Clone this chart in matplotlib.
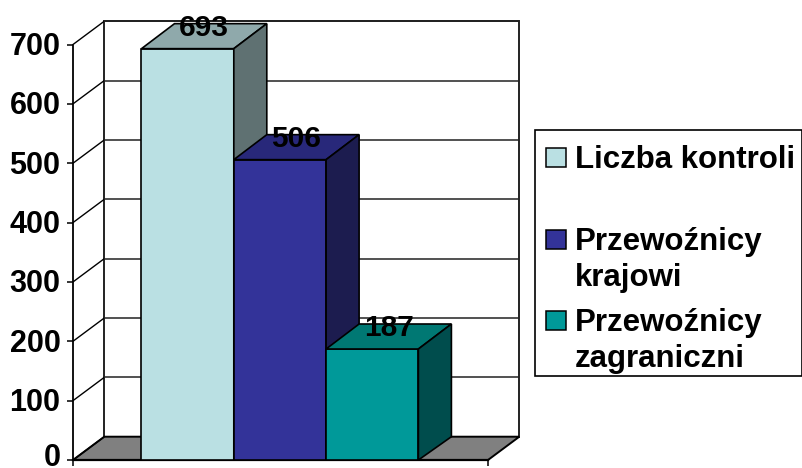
import matplotlib
matplotlib.use("Agg")
import matplotlib.pyplot as plt
from matplotlib.patches import Polygon, Rectangle
from matplotlib.transforms import ScaledTranslation

plt.rcParams['font.family'] = ['Liberation Sans', 'DejaVu Sans']

series_names = ["Liczba kontroli", "Przewoźnicy\nkrajowi", "Przewoźnicy\nzagraniczni"]
series_values = [693, 506, 187]
y_ticks = [0, 100, 200, 300, 400, 500, 600, 700]

front_colors = ["#BAE0E3", "#333399", "#009999"]
top_colors = ["#8FA9AB", "#28287A", "#007873"]
side_colors = ["#5F7172", "#1C1C4F", "#004D4D"]

W, H = 803, 468
fig = plt.figure(figsize=(W / 100, H / 100), dpi=100, facecolor="white")

# front plane of the 3-D box
L, R, B, T = 73, 488, 460, 44.5
ax = fig.add_axes([L / W, 1 - B / H, (R - L) / W, (B - T) / H])
bar_w_px = 92.3
first_bar_px = 141.5
ax.set_xlim((L - first_bar_px) / bar_w_px, (R - first_bar_px) / bar_w_px)
ax.set_ylim(0, 700)
ax.patch.set_visible(False)

ux = 1 / bar_w_px
uy = 700 / (B - T)
wall_dx, wall_dy = 31.3 * ux, 23.3 * uy
bar_dx, bar_dy_top, bar_dy_bot = 33 * ux, 25 * uy, 23.3 * uy
x0, x1 = ax.get_xlim()
top = y_ticks[-1]


def poly(pts, fc, z, ec="black", lw=1.3):
    ax.add_patch(Polygon(pts, closed=True, facecolor=fc, edgecolor=ec, lw=lw,
                         zorder=z, clip_on=False, joinstyle="miter"))


# back wall, side wall and floor
poly([(x0 + wall_dx, wall_dy), (x1 + wall_dx, wall_dy), (x1 + wall_dx, top + wall_dy),
      (x0 + wall_dx, top + wall_dy)], "white", 1, ec="#222222", lw=1.4)
poly([(x0, 0), (x0 + wall_dx, wall_dy), (x1 + wall_dx, wall_dy), (x1, 0)], "#808080", 2, lw=1.4)
for v in y_ticks:
    ax.plot([x0, x0 + wall_dx], [v, v + wall_dy], color="black", lw=1.0, zorder=2,
            clip_on=False, solid_capstyle="butt")
    if v > 0:
        ax.plot([x0 + wall_dx, x1 + wall_dx], [v + wall_dy, v + wall_dy], color="#222222",
                lw=1.1, zorder=2, clip_on=False, solid_capstyle="butt")

# bars
label_shift = ScaledTranslation(0, -4 / 100, fig.dpi_scale_trans)
for i, v in enumerate(series_values):
    ax.bar(i, v, width=1, align="edge", color=front_colors[i], edgecolor="black",
           lw=1.2, zorder=3 + i, clip_on=False)
    poly([(i, v), (i + bar_dx, v + bar_dy_top), (i + 1 + bar_dx, v + bar_dy_top), (i + 1, v)],
         top_colors[i], 3 + i, lw=1.2)
    poly([(i + 1, 0), (i + 1 + bar_dx, bar_dy_bot), (i + 1 + bar_dx, v + bar_dy_top), (i + 1, v)],
         side_colors[i], 3 + i, lw=1.2)
    ax.text(i + 0.5 + bar_dx / 2, v + bar_dy_top, str(v), ha="center", va="center",
            fontsize=21.5, fontweight="bold", color="black", zorder=10, clip_on=False,
            transform=ax.transData + label_shift)

# axes
for s in ("top", "right"):
    ax.spines[s].set_visible(False)
ax.spines["left"].set_linewidth(1.3)
ax.spines["bottom"].set_linewidth(1.6)
ax.spines["left"].set_zorder(2)
ax.spines["bottom"].set_zorder(2)
ax.set_yticks(y_ticks)
ax.set_yticklabels([str(v) for v in y_ticks], fontsize=22, fontweight="bold")
ax.tick_params(axis="y", length=4.5, width=1.1, pad=4.5)
ax.set_xticks([x0, x1])
ax.set_xticklabels([])
ax.tick_params(axis="x", length=4.5, width=1.1)

# keep the zero label inside the image
for lab, v in zip(ax.get_yticklabels(), y_ticks):
    up = 5 if v == 0 else 1
    lab.set_transform(lab.get_transform() + ScaledTranslation(0, up / 100, fig.dpi_scale_trans))

# legend
fig.add_artist(Rectangle((535 / W, 1 - 376 / H), 267.5 / W, 246 / H, transform=fig.transFigure,
                         facecolor="white", edgecolor="black", lw=1.2))
row_y = [157, 239, 320]
for name, color, y in zip(series_names, front_colors, row_y):
    fig.add_artist(Rectangle((546 / W, 1 - (y + 9.5) / H), 20 / W, 19 / H,
                             transform=fig.transFigure, facecolor=color,
                             edgecolor="black", lw=1.1))
    fig.text(575 / W, 1 - (y - 12) / H, name, ha="left", va="top", fontsize=22.5,
             fontweight="bold", color="black", linespacing=1.26)

fig.savefig("out.png", dpi=100)
